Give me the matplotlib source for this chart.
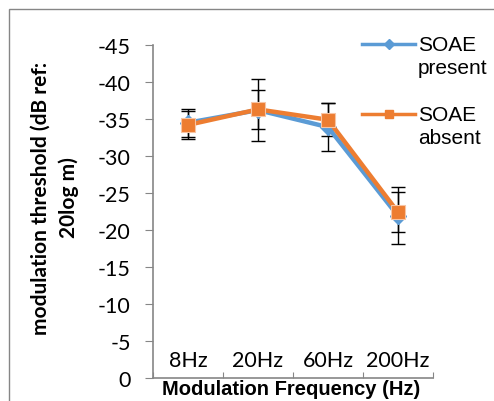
import numpy as np
import matplotlib.pyplot as plt
from matplotlib.patches import Rectangle
from matplotlib.lines import Line2D

# données
freqs = ['8Hz', '20Hz', '60Hz', '200Hz']
present = [-34.5, -36.2, -33.9, -21.9]
present_err = [1.9, 4.2, 3.2, 3.85]
absent = [-34.2, -36.3, -34.9, -22.4]
absent_err = [1.9, 2.6, 2.2, 2.7]

blue = '#5B9BD5'
orange = '#ED7D31'
grey = '#868686'

fig = plt.figure(figsize=(4.94, 4.02), dpi=100)
fig.patches.append(Rectangle((9 / 494, -0.1), 1.2, 1.1 - 10 / 402,
                             transform=fig.transFigure, fill=False,
                             edgecolor=grey, lw=1))
ax = fig.add_axes([153 / 494, 23 / 402, 280 / 494, 333 / 402])

x = np.arange(len(freqs))

# barres d'erreur sous les courbes
ax.errorbar(x, present, yerr=present_err, fmt='none', ecolor='black',
            elinewidth=1, capsize=4.7, capthick=1, zorder=1)
ax.errorbar(x, absent, yerr=absent_err, fmt='none', ecolor='black',
            elinewidth=1, capsize=4.7, capthick=1, zorder=1)

ax.plot(x, present, color=blue, lw=3.2, marker='D', ms=8,
        mec=blue, zorder=2)
ax.plot(x, absent, color=orange, lw=3.2, marker='s', ms=10,
        mec='#F7C4A3', mew=0.8, zorder=3)

ax.set_xlim(-0.5, 3.5)
ax.set_ylim(0, -45)
ax.set_yticks(np.arange(0, -50, -5))
ax.set_yticklabels([str(v) for v in np.arange(0, -50, -5)],
                   family='Lato', fontsize=15.5)
ax.set_xticks(np.arange(-0.5, 4, 1))
ax.set_xticklabels([])
ax.tick_params(axis='x', direction='in', length=4.5, color=grey)
ax.tick_params(axis='y', direction='out', length=6, color=grey, pad=10)

for i, f in enumerate(freqs):
    ax.text(i, -2.45, f, ha='center', va='center', family='Lato',
            fontsize=15.5)

for s in ['top', 'right']:
    ax.spines[s].set_visible(False)
for s in ['left', 'bottom']:
    ax.spines[s].set_color(grey)
    ax.spines[s].set_linewidth(1.2)

fig.text(291 / 494, 1 - 390 / 402, 'Modulation Frequency (Hz)',
         ha='center', va='center', family='Liberation Sans',
         fontweight='bold', fontsize=14.5)
fig.text(55 / 494, 1 - 198 / 402, 'modulation threshold (dB ref:\n20log m)',
         rotation=90, ha='center', va='center', family='Lato',
         fontweight='bold', fontsize=15, linespacing=1.5)

# légende à la main
for yy, col, mk, ms, lab in [(45, blue, 'D', 5, 'SOAE\npresent'),
                             (115, orange, 's', 6, 'SOAE\nabsent')]:
    fy = 1 - yy / 402
    fig.add_artist(Line2D([362 / 494, 415 / 494], [fy, fy], color=col, lw=2.5,
                          transform=fig.transFigure))
    fig.add_artist(Line2D([388.5 / 494], [fy], color=col, marker=mk, ms=ms,
                          transform=fig.transFigure))
    fig.text(418 / 494, fy + 9 / 402, lab, ha='left', va='top',
             family='Liberation Sans', fontsize=15, linespacing=1.3)

plt.savefig('out.png', dpi=100)
